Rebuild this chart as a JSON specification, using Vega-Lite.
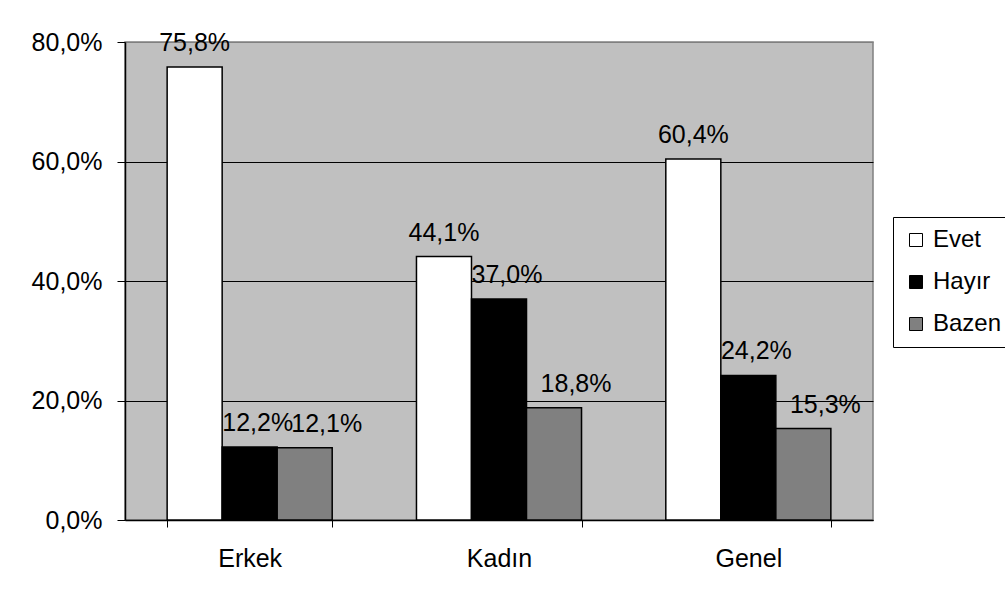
{
  "$schema": "https://vega.github.io/schema/vega-lite/v6.json",
  "width": 748,
  "height": 478,
  "autosize": {"type": "none"},
  "padding": {"left": 125, "top": 42, "right": 132, "bottom": 84},
  "background": "white",
  "config": {
    "locale": {"number": {"decimal": ",", "thousands": ".", "grouping": [3], "currency": ["", " TL"]}},
    "font": "Liberation Sans",
    "view": {"fill": "#C0C0C0", "stroke": "#808080", "strokeWidth": 1.5}
  },
  "data": {
    "values": [
      {"grup": "Erkek", "cevap": "Evet", "oran": 0.758},
      {"grup": "Erkek", "cevap": "Hayır", "oran": 0.122},
      {"grup": "Erkek", "cevap": "Bazen", "oran": 0.121},
      {"grup": "Kadın", "cevap": "Evet", "oran": 0.441},
      {"grup": "Kadın", "cevap": "Hayır", "oran": 0.370},
      {"grup": "Kadın", "cevap": "Bazen", "oran": 0.188},
      {"grup": "Genel", "cevap": "Evet", "oran": 0.604},
      {"grup": "Genel", "cevap": "Hayır", "oran": 0.242},
      {"grup": "Genel", "cevap": "Bazen", "oran": 0.153}
    ]
  },
  "encoding": {
    "x": {
      "field": "grup", "type": "nominal", "sort": ["Erkek", "Kadın", "Genel"],
      "scale": {"paddingInner": 0.338, "paddingOuter": 0.169},
      "axis": {
        "title": null, "labelAngle": 0, "labelFontSize": 25, "labelColor": "black",
        "domainColor": "black", "domainWidth": 1.5, "tickColor": "black", "tickSize": 7,
        "tickBand": "extent", "labelPadding": 19
      }
    },
    "xOffset": {"field": "cevap", "type": "nominal", "sort": ["Evet", "Hayır", "Bazen"], "scale": {"paddingInner": 0, "paddingOuter": 0}},
    "y": {
      "field": "oran", "type": "quantitative",
      "scale": {"domain": [0, 0.8], "nice": false},
      "axis": {
        "title": null, "format": ".1%", "values": [0, 0.2, 0.4, 0.6, 0.8],
        "labelFontSize": 25, "labelColor": "black", "labelPadding": 15,
        "domainColor": "black", "domainWidth": 1.5, "tickColor": "black", "tickSize": 8,
        "grid": true, "gridColor": {"condition": {"test": "datum.value >= 0.8", "value": "#808080"}, "value": "black"},
        "gridWidth": 1, "gridOpacity": 1
      }
    }
  },
  "layer": [
    {
      "transform": [{"filter": "datum.cevap == 'Evet'"}],
      "mark": {"type": "text", "fontSize": 25, "color": "black", "baseline": "alphabetic", "dy": -16},
      "encoding": {"text": {"field": "oran", "type": "quantitative", "format": ".1%"}}
    },
    {
      "transform": [{"filter": "datum.cevap == 'Hayır'"}],
      "mark": {"type": "text", "fontSize": 25, "color": "black", "baseline": "alphabetic", "dy": -16, "dx": 8},
      "encoding": {"text": {"field": "oran", "type": "quantitative", "format": ".1%"}}
    },
    {
      "transform": [{"filter": "datum.cevap == 'Bazen'"}],
      "mark": {"type": "text", "fontSize": 25, "color": "black", "baseline": "alphabetic", "dy": -16, "dx": 22},
      "encoding": {"text": {"field": "oran", "type": "quantitative", "format": ".1%"}}
    },
    {
      "mark": {"type": "bar", "stroke": "black", "strokeWidth": 1.5},
      "encoding": {
        "fill": {
          "field": "cevap", "type": "nominal",
          "scale": {"domain": ["Evet", "Hayır", "Bazen"], "range": ["#FFFFFF", "#000000", "#808080"]},
          "legend": {
            "title": null, "orient": "none", "legendX": 768, "legendY": 175,
            "strokeColor": "black", "fillColor": "white", "padding": 11,
            "symbolType": "square", "symbolSize": 169, "symbolStrokeColor": "black", "symbolStrokeWidth": 1,
            "labelFontSize": 24, "labelColor": "black", "labelOffset": 5, "rowPadding": 18
          }
        }
      }
    }
  ]
}
